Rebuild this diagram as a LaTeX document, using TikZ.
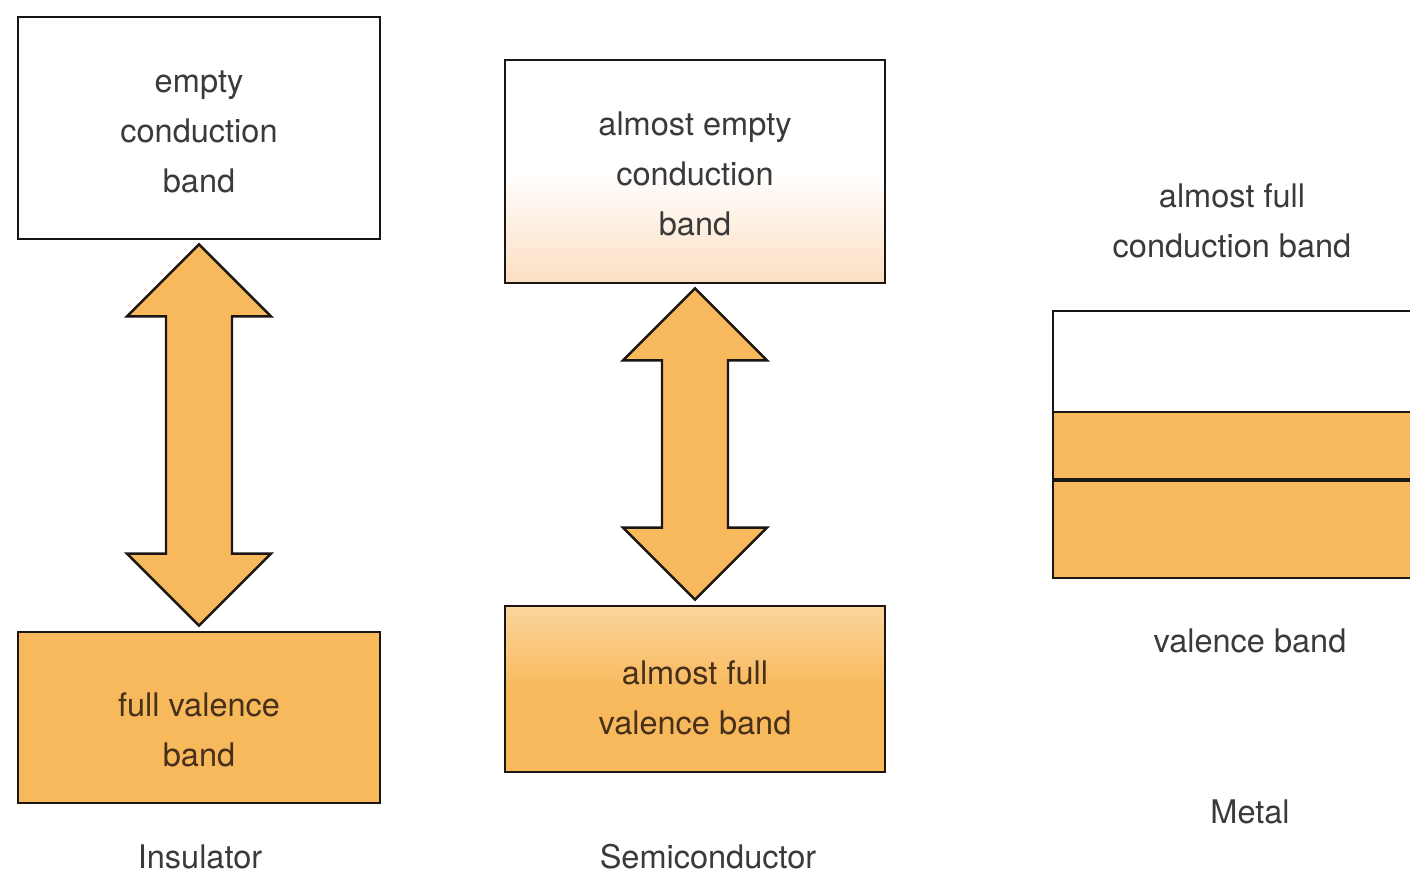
\documentclass[tikz,border=0pt]{standalone}
\usepackage{fontspec}
\setmainfont{TeX Gyre Heros}
\usetikzlibrary{positioning,calc}
\definecolor{bandorange}{RGB}{248,185,92}
\definecolor{bandpeach}{RGB}{252,222,194}
\definecolor{bandline}{RGB}{28,22,18}
\definecolor{bandtext}{RGB}{58,58,58}
\definecolor{bandbrown}{RGB}{70,48,25}

% fat double arrow between the lower edge of #1 and the upper edge of #2
\newcommand{\gaparrow}[2]{%
  \path ($(#1.south)+(0,-0.08)$) coordinate (#1 tip)
        ($(#2.north)+(0,0.1)$) coordinate (#2 tip);
  \filldraw[gap] (#1 tip) -- ++(1.44,-1.44) -- ++(-0.78,0)
    -- ($(#2 tip)+(0.66,1.44)$) -- ++(0.78,0) -- (#2 tip)
    -- ++(-1.44,1.44) -- ++(0.78,0)
    -- ($(#1 tip)+(-0.66,-1.44)$) -- ++(-0.78,0) -- cycle;
}

\begin{document}
\begin{tikzpicture}[
  font=\fontsize{18.5}{28.5}\selectfont,
  band/.style={draw=bandline, line width=1.5pt, minimum width=7.24cm},
  full/.style={band, fill=bandorange},
  bandtxt/.style={align=center, text=bandtext},
  fulltxt/.style={align=center, text=bandbrown},
  gap/.style={fill=bandorange, draw=bandline, line width=1.4pt, line join=miter},
  caption/.style={text=bandtext, align=center, inner sep=1pt},
]
\useasboundingbox (0,0) rectangle (28.2,-17.54);
\clip (0,0) rectangle (28.2,-17.54);

% insulator
\node[band, minimum height=4.44cm] (icb) at (3.98,-2.56) {};
\node[bandtxt] (icbt) at ($(icb)+(0,-0.08)$) {empty\\conduction\\band};
\node[full, minimum height=3.42cm] (ivb) at (3.98,-14.35) {};
\node[fulltxt] (ivbt) at ($(ivb)+(0,-0.24)$) {full valence\\band};
\gaparrow{icb}{ivb}
\node[caption] (ins) at (4.0,-17.14) {Insulator};

% semiconductor
\node[band, minimum width=7.6cm, minimum height=4.46cm,
      top color=white, bottom color=bandpeach, middle color=white] (scb) at (13.9,-3.43) {};
\node[bandtxt] (scbt) at ($(scb)+(0,-0.04)$) {almost empty\\conduction\\band};
\node[band, minimum width=7.6cm, minimum height=3.32cm,
      top color=bandorange!60!white, bottom color=bandorange, middle color=bandorange] (svb) at (13.9,-13.78) {};
\node[fulltxt] (svbt) at ($(svb)+(0,-0.18)$) {almost full\\valence band};
\gaparrow{scb}{svb}
\node[caption] (semi) at (14.16,-17.14) {Semiconductor};

% metal: overlapping bands, cut off at the right
\node[caption] (mcb) at (24.64,-4.42) {almost full\\conduction band};
\fill[white] (21.06,-6.22) rectangle (28.4,-8.24);
\fill[bandorange] (21.06,-8.24) rectangle (28.4,-11.56);
\draw[draw=bandline, line width=1.5pt] (21.06,-6.22) rectangle (28.4,-11.56);
\draw[draw=bandline, line width=1.5pt] (21.06,-8.24) -- (28.4,-8.24);
\draw[draw=bandline, line width=2.4pt] (21.06,-9.60) -- (28.4,-9.60);
\node[caption] (mvb) at (25.0,-12.82) {valence band};
\node[caption] (metal) at (25.0,-16.24) {Metal};
\end{tikzpicture}
\end{document}
